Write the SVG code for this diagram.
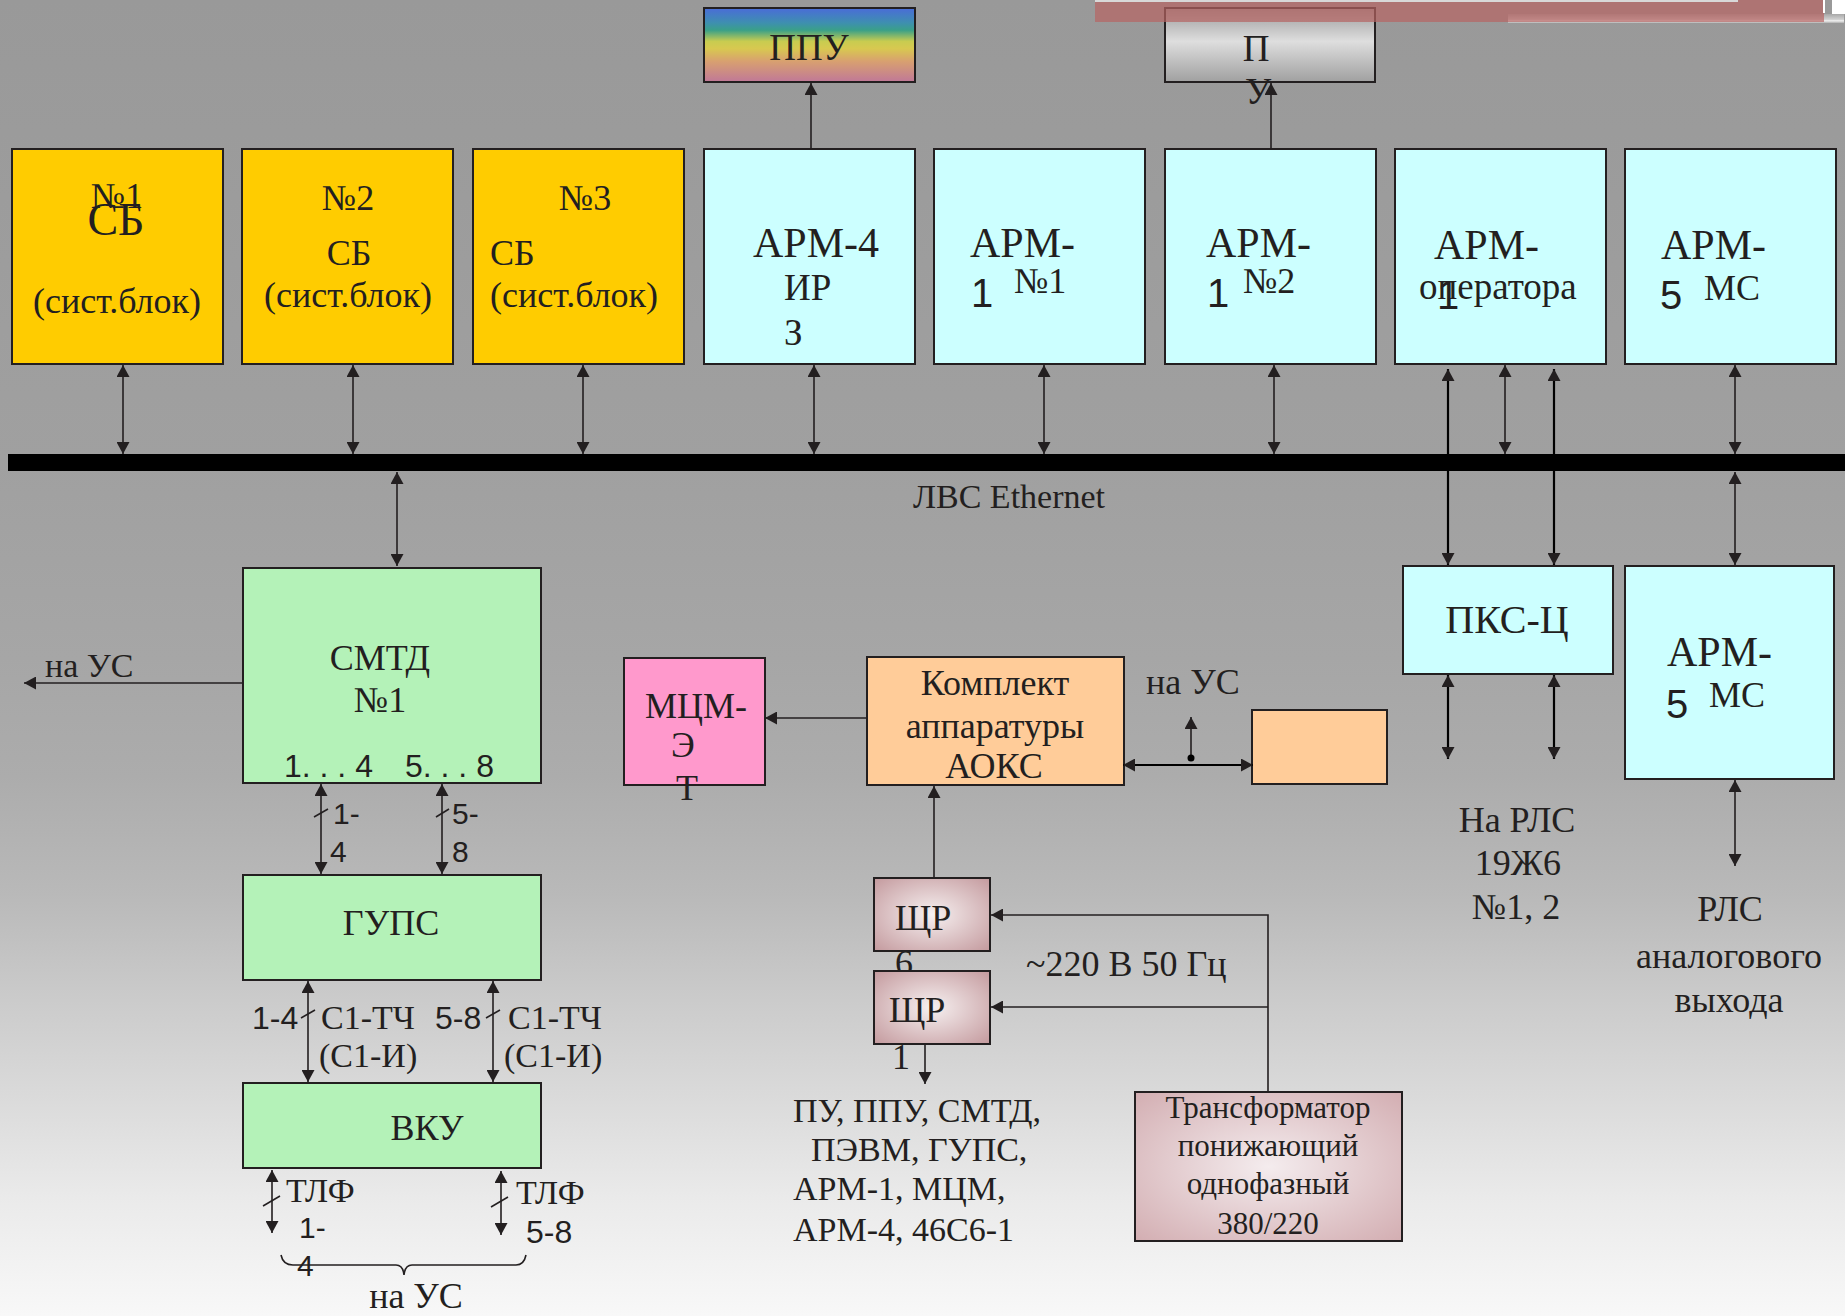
<svg xmlns="http://www.w3.org/2000/svg" width="1845" height="1316" viewBox="0 0 1845 1316">
<defs>
<linearGradient id="bg" x1="0" y1="0" x2="0" y2="1">
<stop offset="0" stop-color="#999999"/>
<stop offset="0.35" stop-color="#a0a0a0"/>
<stop offset="0.5" stop-color="#a6a6a6"/>
<stop offset="0.59" stop-color="#acacac"/>
<stop offset="0.68" stop-color="#b9b9b9"/>
<stop offset="0.76" stop-color="#cbcbcb"/>
<stop offset="0.91" stop-color="#eaeaea"/>
<stop offset="1" stop-color="#f8f8f8"/>
</linearGradient>
<linearGradient id="ppu" x1="0" y1="0" x2="0" y2="1">
<stop offset="0" stop-color="#4a6cd8"/>
<stop offset="0.2" stop-color="#3e8fb0"/>
<stop offset="0.3" stop-color="#3aa088"/>
<stop offset="0.45" stop-color="#c8cc50"/>
<stop offset="0.55" stop-color="#d8c850"/>
<stop offset="0.72" stop-color="#d8a070"/>
<stop offset="1" stop-color="#c07898"/>
</linearGradient>
<linearGradient id="pu" x1="0" y1="0" x2="0" y2="1">
<stop offset="0" stop-color="#9a9a9a"/>
<stop offset="0.45" stop-color="#dedede"/>
<stop offset="1" stop-color="#a0a0a0"/>
</linearGradient>
<linearGradient id="graybar" x1="0" y1="0" x2="0" y2="1">
<stop offset="0" stop-color="#a8a8a8"/>
<stop offset="0.6" stop-color="#d0d0d0"/>
<stop offset="0.75" stop-color="#f0f0f0"/>
<stop offset="1" stop-color="#b0b0b0"/>
</linearGradient>
<radialGradient id="shr" cx="0.5" cy="0.5" r="0.7">
<stop offset="0" stop-color="#f6f0f0"/>
<stop offset="1" stop-color="#c49a9e"/>
</radialGradient>
<radialGradient id="trf" cx="0.5" cy="0.5" r="0.7">
<stop offset="0" stop-color="#f4ecee"/>
<stop offset="1" stop-color="#d3aeb2"/>
</radialGradient>
<marker id="ah" viewBox="0 0 12 13" refX="12" refY="6.5" markerWidth="12" markerHeight="13" markerUnits="userSpaceOnUse" orient="auto-start-reverse">
<path d="M0,0 L12,6.5 L0,13 z" fill="#231f20"/>
</marker>
<style>
.bx{stroke:#231f20;stroke-width:2}
.sb{fill:#ffcc00}
.arm{fill:#ccffff}
.gr{fill:#b4f2b8}
.or{fill:#ffcc99}
.pk{fill:#ff99cc}
.t{font-family:"Liberation Serif","Times New Roman",serif;fill:#231f20}
.s{font-family:"Liberation Sans",Arial,sans-serif;fill:#231f20}
.m{text-anchor:middle}
.f30{font-size:30px}.f31{font-size:31px}.f32{font-size:32px}.f34{font-size:34px}.f36{font-size:36px}.f37{font-size:37px}.f40{font-size:40px}.f42{font-size:42px}.f46{font-size:46px}
.c{stroke:#231f20;stroke-width:1.6;fill:none}
.cb{stroke:#000;stroke-width:2.2;fill:none}
.both{marker-start:url(#ah);marker-end:url(#ah)}
.end{marker-end:url(#ah)}
</style>
</defs>
<rect x="0" y="0" width="1845" height="1316" fill="url(#bg)"/>
<rect x="1508" y="14" width="336" height="9" fill="url(#graybar)"/>

<g id="sb1"><rect class="bx sb" x="12" y="149" width="211" height="215"/>
<text class="t f36 m" x="117" y="208">№1</text><text class="t f46 m" x="116" y="235">СБ</text><text class="t f36 m" x="117" y="313">(сист.блок)</text></g>
<g id="sb2"><rect class="bx sb" x="242" y="149" width="211" height="215"/>
<text class="t f36 m" x="348" y="210">№2</text><text class="t f36 m" x="349" y="265">СБ</text><text class="t f36 m" x="348" y="307">(сист.блок)</text></g>
<g id="sb3"><rect class="bx sb" x="473" y="149" width="211" height="215"/>
<text class="t f36 m" x="585" y="210">№3</text><text class="t f36" x="490" y="265">СБ</text><text class="t f36" x="490" y="307">(сист.блок)</text></g>
<g id="arm4"><rect class="bx arm" x="704" y="149" width="211" height="215"/>
<text class="t f42" x="753" y="257">АРМ-4</text><text class="t f37" x="784" y="300">ИР</text><text class="t f37" x="784" y="345">З</text></g>
<g id="arm1n1"><rect class="bx arm" x="934" y="149" width="211" height="215"/>
<text class="t f42" x="970" y="257">АРМ-</text><text class="s f40" x="971" y="307">1</text><text class="t f36" x="1014" y="293">№1</text></g>
<g id="arm1n2"><rect class="bx arm" x="1165" y="149" width="211" height="215"/>
<text class="t f42" x="1206" y="257">АРМ-</text><text class="s f40" x="1207" y="307">1</text><text class="t f36" x="1243" y="293">№2</text></g>
<g id="armop"><rect class="bx arm" x="1395" y="149" width="211" height="215"/>
<text class="t f42" x="1434" y="259">АРМ-</text><text class="t f37" x="1419" y="299">оператора</text><text class="s f40" x="1437" y="309">1</text></g>
<g id="arm5top"><rect class="bx arm" x="1625" y="149" width="211" height="215"/>
<text class="t f42" x="1661" y="259">АРМ-</text><text class="s f40" x="1660" y="309">5</text><text class="t f36" x="1704" y="300">МС</text></g>
<g id="ppu"><rect class="bx" fill="url(#ppu)" x="704" y="8" width="211" height="74"/>
<text class="t f37 m" x="809" y="60">ППУ</text></g>
<g id="pu"><rect class="bx" fill="url(#pu)" x="1165" y="8" width="210" height="74"/>
<text class="t f37 m" x="1256" y="61">П</text><text class="t f37 m" x="1258" y="104">У</text></g>

<g id="bus"><rect x="8" y="454" width="1837" height="17" fill="#000"/>
<text class="t f34 m" x="1009" y="508">ЛВС Ethernet</text></g>

<g id="smtd"><rect class="bx gr" x="243" y="568" width="298" height="215"/>
<text class="t f36 m" x="380" y="670">СМТД</text><text class="t f36 m" x="380" y="712">№1</text>
<text class="s f32" x="284" y="777">1. . . 4</text><text class="s f32" x="405" y="777">5. . . 8</text></g>
<g id="gups"><rect class="bx gr" x="243" y="875" width="298" height="105"/>
<text class="t f36 m" x="391" y="935">ГУПС</text></g>
<g id="vku"><rect class="bx gr" x="243" y="1083" width="298" height="85"/>
<text class="t f36 m" x="427" y="1140">ВКУ</text></g>
<g id="mcm"><rect class="bx pk" x="624" y="658" width="141" height="127"/>
<text class="t f36" x="645" y="718">МЦМ-</text><text class="t f36" x="671" y="757">Э</text><text class="t f36" x="676" y="800">Т</text></g>
<g id="aoks"><rect class="bx or" x="867" y="657" width="257" height="128"/>
<text class="t f36 m" x="995" y="695">Комплект</text><text class="t f36 m" x="995" y="738">аппаратуры</text><text class="t f36 m" x="994" y="778">АОКС</text></g>
<g id="smallbox"><rect class="bx or" x="1252" y="710" width="135" height="74"/></g>
<g id="pksc"><rect class="bx arm" x="1403" y="566" width="210" height="108"/>
<text class="t f40 m" x="1507" y="633">ПКС-Ц</text></g>
<g id="arm5low"><rect class="bx arm" x="1625" y="566" width="209" height="213"/>
<text class="t f42" x="1667" y="666">АРМ-</text><text class="s f40" x="1666" y="718">5</text><text class="t f36" x="1709" y="707">МС</text></g>
<g id="shr6"><rect class="bx" fill="url(#shr)" x="874" y="878" width="116" height="73"/>
<text class="t f36" x="895" y="930">ЩР</text><text class="t f36" x="895" y="975">6</text></g>
<g id="shr1"><rect class="bx" fill="url(#shr)" x="874" y="971" width="116" height="73"/>
<text class="t f36" x="889" y="1022">ЩР</text><text class="t f36" x="892" y="1069">1</text></g>
<g id="trans"><rect class="bx" fill="url(#trf)" x="1135" y="1092" width="267" height="149"/>
<text class="t f31 m" x="1268" y="1118">Трансформатор</text><text class="t f31 m" x="1268" y="1156">понижающий</text>
<text class="t f31 m" x="1268" y="1194">однофазный</text><text class="t f31 m" x="1268" y="1234">380/220</text></g>

<g id="labels">
<text class="t f34" x="45" y="677">на УС</text>
<text class="s f30" x="333" y="824">1-</text><text class="s f30" x="330" y="862">4</text>
<text class="s f30" x="452" y="824">5-</text><text class="s f30" x="452" y="862">8</text>
<text class="s f32" x="252" y="1029">1-4</text><text class="t f34" x="321" y="1029">С1-ТЧ</text><text class="t f34" x="319" y="1067">(С1-И)</text>
<text class="s f32" x="435" y="1029">5-8</text><text class="t f34" x="508" y="1029">С1-ТЧ</text><text class="t f34" x="504" y="1067">(С1-И)</text>
<text class="t f34" x="286" y="1202">ТЛФ</text><text class="s f30" x="299" y="1238">1-</text><text class="s f30" x="297" y="1276">4</text>
<text class="t f34" x="516" y="1204">ТЛФ</text><text class="s f32" x="526" y="1243">5-8</text>
<text class="t f36 m" x="416" y="1308">на УС</text>
<text class="t f36" x="1146" y="694">на УС</text>
<text class="t f36" x="1026" y="976">~220 В 50 Гц</text>
<text class="t f34" x="793" y="1122">ПУ, ППУ, СМТД,</text>
<text class="t f34" x="811" y="1161">ПЭВМ, ГУПС,</text>
<text class="t f34" x="793" y="1200">АРМ-1, МЦМ,</text>
<text class="t f34" x="793" y="1241">АРМ-4, 46С6-1</text>
<text class="t f36 m" x="1517" y="832">На РЛС</text><text class="t f36 m" x="1518" y="875">19Ж6</text><text class="t f36 m" x="1516" y="919">№1, 2</text>
<text class="t f36 m" x="1730" y="921">РЛС</text><text class="t f36 m" x="1729" y="968">аналогового</text><text class="t f36 m" x="1729" y="1012">выхода</text>
</g>

<g id="connectors">
<line class="c both" x1="123" y1="454" x2="123" y2="365"/>
<line class="c both" x1="353" y1="454" x2="353" y2="365"/>
<line class="c both" x1="583" y1="454" x2="583" y2="365"/>
<line class="c both" x1="814" y1="454" x2="814" y2="365"/>
<line class="c both" x1="1044" y1="454" x2="1044" y2="365"/>
<line class="c both" x1="1274" y1="454" x2="1274" y2="365"/>
<line class="c both" x1="1505" y1="454" x2="1505" y2="365"/>
<line class="c both" x1="1735" y1="454" x2="1735" y2="365"/>
<line class="cb both" x1="1448" y1="369" x2="1448" y2="565"/>
<line class="cb both" x1="1554" y1="369" x2="1554" y2="565"/>
<line class="c both" x1="1735" y1="472" x2="1735" y2="565"/>
<line class="c end" x1="811" y1="149" x2="811" y2="83"/>
<line class="c end" x1="1271" y1="149" x2="1271" y2="83"/>
<line class="c both" x1="397" y1="472" x2="397" y2="566"/>
<line class="c end" x1="242" y1="683" x2="24" y2="683"/>
<line class="c both" x1="321" y1="784" x2="321" y2="874"/>
<line class="c both" x1="442" y1="784" x2="442" y2="874"/>
<line class="c" x1="314" y1="817" x2="328" y2="809"/>
<line class="c" x1="436" y1="817" x2="449" y2="809"/>
<line class="c both" x1="308" y1="981" x2="308" y2="1082"/>
<line class="c both" x1="493" y1="981" x2="493" y2="1082"/>
<line class="c" x1="301" y1="1018" x2="315" y2="1010"/>
<line class="c" x1="486" y1="1018" x2="500" y2="1010"/>
<line class="c both" x1="272" y1="1170" x2="272" y2="1233"/>
<line class="c both" x1="501" y1="1171" x2="501" y2="1235"/>
<line class="c" x1="263" y1="1206" x2="280" y2="1196"/>
<line class="c" x1="491" y1="1207" x2="508" y2="1197"/>
<path class="c" d="M281,1255 Q283,1265 293,1265 L396,1265 Q403,1265 404,1275 Q405,1265 412,1265 L516,1265 Q524,1265 526,1255"/>
<line class="c end" x1="867" y1="718" x2="765" y2="718"/>
<line class="c end" x1="934" y1="877" x2="934" y2="786"/>
<polyline class="c end" points="1268,1091 1268,915 991,915"/>
<line class="c end" x1="1268" y1="1007" x2="991" y2="1007"/>
<line class="c end" x1="925" y1="1045" x2="925" y2="1084"/>
<line class="cb both" x1="1448" y1="675" x2="1448" y2="759"/>
<line class="cb both" x1="1554" y1="675" x2="1554" y2="759"/>
<line class="c both" x1="1735" y1="780" x2="1735" y2="866"/>
<line class="cb both" x1="1123" y1="765" x2="1253" y2="765"/>
<line class="c end" x1="1191" y1="758" x2="1191" y2="717"/>
<circle cx="1191" cy="758" r="3.5" fill="#000"/>
</g>

<g id="decor">
<rect x="1095" y="0" width="729" height="22" fill="#b66463" opacity="0.7"/>
<rect x="1095" y="0" width="643" height="2" fill="#d8d8d8"/>
<rect x="1823" y="0" width="2" height="13" fill="#ffffff"/>
<rect x="1832" y="0" width="13" height="14" fill="#ffffff"/>
</g>
</svg>
